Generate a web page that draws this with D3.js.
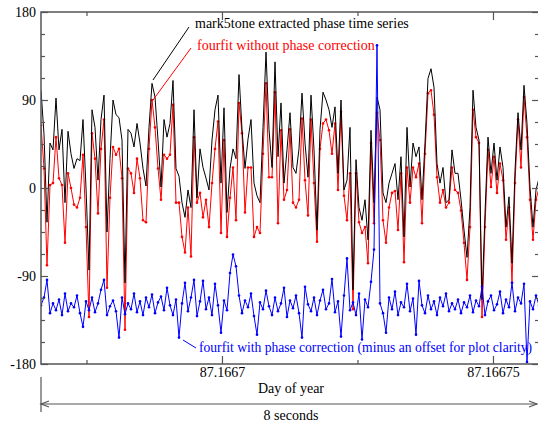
<!DOCTYPE html>
<html><head><meta charset="utf-8">
<script src="https://cdn.jsdelivr.net/npm/d3@7"></script>
<style>
body{margin:0;background:#fff}
svg{display:block}
text{font-family:"Liberation Serif","Times New Roman",Times,Tinos,"Noto Serif","DejaVu Serif",serif}
</style>
</head><body>
<svg id="c" width="538" height="425"></svg>
<script>
// mark5tone extracted phase (degrees)
const mark5tone = [
100,55,-35,46,39,92,39,60,-15,58,
35,20,30,28,70,0,-84,80,62,8,
70,95,-45,30,90,75,72,49,-97,60,
56,42,66,46,20,2,62,107,93,49,
1,70,52,66,110,20,12,-15,-30,-2,
-20,80,-10,40,21,10,-2,49,80,95,
5,82,-25,20,40,30,116,60,20,50,
70,5,-8,-15,62,139,60,21,129,32,
87,5,39,77,21,15,40,97,46,11,
95,39,-43,60,98,90,80,62,83,15,
90,-2,8,62,-104,29,-20,-33,-12,-53,
59,-15,93,80,-5,-15,5,15,25,-12,
32,-50,62,1,46,32,42,-12,46,112,
122,103,25,5,21,-15,-12,39,15,15,
-12,-43,-71,-20,100,62,49,-114,-26,52,
15,46,8,42,21,-40,-9,-77,18,77,
39,105,66,1,-40,-2,10];
// fourfit without phase correction
const fourfitNoCorr = [
64,20,-79,3,5,52,10,3,-56,15,
0,-17,-20,-10,34,-40,-132,56,30,-26,
40,70,-102,-10,42,34,40,10,-145,20,
15,-5,30,10,-33,-35,40,90,62,20,
-12,34,30,34,85,-15,-15,-50,-66,-20,
-70,52,-15,-5,-30,-12,-40,5,40,68,
-46,49,-50,-10,21,-33,87,56,-25,21,
21,-50,-40,-46,35,107,11,11,98,-36,
59,-12,-2,60,-15,-20,-12,71,8,-28,
70,5,-55,40,66,70,59,35,66,-2,
78,-8,-33,15,-124,15,-35,-46,-40,-77,
46,-36,77,49,-33,-56,-20,-5,-3,-43,
15,-76,21,-15,21,11,25,-36,35,97,
100,75,11,-15,-2,-20,-15,21,-2,-5,
-23,-56,-94,-40,80,52,46,-132,-40,39,
1,32,-5,25,8,-53,-20,-97,5,70,
21,93,52,-12,-53,-12,0];
// fourfit with phase correction (minus offset)
const fourfitCorr = [
-120,-112,-94,-128,-118,-125,-114,-130,-108,-126,
-118,-122,-110,-128,-142,-116,-125,-112,-127,-118,
-104,-94,-130,-121,-115,-126,-153,-112,-129,-118,
-124,-108,-127,-116,-130,-112,-122,-109,-128,-117,
-111,-125,-102,-120,-130,-114,-153,-118,-97,-126,
-112,-94,-131,-116,-95,-124,-112,-130,-98,-120,
-148,-115,-125,-87,-68,-80,-110,-128,-115,-122,
-108,-131,-150,-117,-124,-105,-121,-130,-112,-126,
-118,-102,-132,-115,-123,-110,-128,-153,-101,-119,
-126,-112,-130,-115,-104,-124,-118,-93,-127,-116,
-152,-110,-72,-125,-117,-130,-108,-155,-114,-122,
-96,-63,146,-118,-128,-148,-112,-124,-106,-130,
-117,-122,-98,-126,-113,-150,-95,-120,-128,-110,
-124,-116,-130,-112,-121,-108,-126,-118,-124,-114,
-128,-117,-122,-110,-127,-115,-121,-101,-130,-116,
-110,-125,-119,-106,-128,-114,-122,-97,-126,-112,
-118,-98,-178,-116,-124,-110,-120];

const tStart = 87.16666661, tStep = 5.535e-7; // sample grid (day of year)
const xDomain = [87.16666661, 87.16675849];
const xMajorTicks = [87.1667, 87.16675];
const xMajorLabels = ["87.1667", "87.16675"];
const xMinorTicks = [87.166675, 87.166725];
const yMajorTicks = [-180, -90, 0, 90, 180];
const yMajorLabels = ["-180", "-90", "0", "90", "180"];
const yMinorTicks = [-157.5,-135,-112.5,-67.5,-45,-22.5,22.5,45,67.5,112.5,135,157.5];
const seriesLabels = ["mark5tone extracted phase time series",
                      "fourfit without phase correction",
                      "fourfit with phase correction (minus an offset for plot clarity)"];
const xTitle = "Day of year", spanLabel = "8 seconds";

const FONT = '"Liberation Serif","Times New Roman",Times,Tinos,"Noto Serif","DejaVu Serif",serif';
const L = 41, R = 539, T = 12, B = 364;
const svg = d3.select("#c");
const x = d3.scaleLinear().domain(xDomain).range([L, R]);
const y = d3.scaleLinear().domain([-180, 180]).range([B, T]);
const axisCol = "#555";

svg.append("defs").append("clipPath").attr("id","clip")
  .append("rect").attr("x",L).attr("y",T).attr("width",R-L).attr("height",B-T);

function tpts(arr){ return arr.map((v,i)=>[tStart + i*tStep, v]); }
const line = d3.line().x(d=>x(d[0])).y(d=>y(d[1]));
const g = svg.append("g").attr("clip-path","url(#clip)");

// red
const redPts = tpts(fourfitNoCorr);
g.append("path").attr("d", line(redPts)).attr("fill","none").attr("stroke","#ff0000").attr("stroke-width",1);
g.selectAll(".rm").data(redPts).enter().append("circle")
  .attr("cx",d=>x(d[0])).attr("cy",d=>y(d[1])).attr("r",1.3).attr("fill","#ff0000");
// black
g.append("path").attr("d", line(tpts(mark5tone))).attr("fill","none").attr("stroke","#000").attr("stroke-width",1);
// blue
const bluePts = tpts(fourfitCorr);
g.append("path").attr("d", line(bluePts)).attr("fill","none").attr("stroke","#0000ff").attr("stroke-width",1);
g.selectAll(".bm").data(bluePts).enter().append("circle")
  .attr("cx",d=>x(d[0])).attr("cy",d=>y(d[1])).attr("r",1.3).attr("fill","#0000ff");

// frame
svg.append("rect").attr("x",L).attr("y",T).attr("width",R-L).attr("height",B-T)
  .attr("fill","none").attr("stroke",axisCol).attr("stroke-width",1.5);

function styleAxis(sel){
  sel.select(".domain").remove();
  sel.selectAll("line").attr("stroke",axisCol).attr("stroke-width",1.2);
  sel.selectAll("text").attr("font-size",14).attr("fill","#000")
     .attr("font-family",FONT).style("font-family",FONT);
}
// bottom
svg.append("g").attr("transform",`translate(0,${B})`)
  .call(d3.axisBottom(x).tickValues(xMajorTicks).tickSize(-8).tickPadding(3)
    .tickFormat((d,i)=>xMajorLabels[i])).call(styleAxis);
svg.append("g").attr("transform",`translate(0,${B})`)
  .call(d3.axisBottom(x).tickValues(xMinorTicks).tickSize(-4).tickFormat("")).call(styleAxis);
// top
svg.append("g").attr("transform",`translate(0,${T})`)
  .call(d3.axisTop(x).tickValues(xMajorTicks).tickSize(-8).tickFormat("")).call(styleAxis);
svg.append("g").attr("transform",`translate(0,${T})`)
  .call(d3.axisTop(x).tickValues(xMinorTicks).tickSize(-4).tickFormat("")).call(styleAxis);
// left
svg.append("g").attr("transform",`translate(${L},0)`)
  .call(d3.axisLeft(y).tickValues(yMajorTicks).tickSize(-7).tickPadding(5)
    .tickFormat((d,i)=>yMajorLabels[i])).call(styleAxis);
svg.append("g").attr("transform",`translate(${L},0)`)
  .call(d3.axisLeft(y).tickValues(yMinorTicks).tickSize(-4).tickFormat("")).call(styleAxis);
// right
svg.append("g").attr("transform",`translate(${R},0)`)
  .call(d3.axisRight(y).tickValues(yMajorTicks).tickSize(-7).tickFormat("")).call(styleAxis);
svg.append("g").attr("transform",`translate(${R},0)`)
  .call(d3.axisRight(y).tickValues(yMinorTicks).tickSize(-4).tickFormat("")).call(styleAxis);

function txt(xp, yp, s, col, size, anchor){
  return svg.append("text").attr("x",xp).attr("y",yp).attr("font-size",size||14)
    .attr("font-family",FONT).style("font-family",FONT)
    .attr("fill",col||"#000").attr("text-anchor",anchor||"start").text(s);
}
// x title
txt(291, 393, xTitle, "#000", 14, "middle");
// span arrow
const ay = 404;
svg.append("line").attr("x1",L).attr("x2",L).attr("y1",377).attr("y2",412)
  .attr("stroke",axisCol).attr("stroke-width",1.2);
svg.append("line").attr("x1",L).attr("x2",537).attr("y1",ay).attr("y2",ay)
  .attr("stroke",axisCol).attr("stroke-width",1.2);
svg.append("path").attr("d",`M${L+8},${ay-3}L${L},${ay}L${L+8},${ay+3}`)
  .attr("fill","none").attr("stroke",axisCol).attr("stroke-width",1.2);
svg.append("path").attr("d",`M${537-8},${ay-3}L537,${ay}L${537-8},${ay+3}`)
  .attr("fill","none").attr("stroke",axisCol).attr("stroke-width",1.2);
txt(291, 420, spanLabel, "#000", 14, "middle");

// annotations
svg.append("line").attr("x1",153).attr("y1",80).attr("x2",189).attr("y2",27).attr("stroke","#000").attr("stroke-width",1);
txt(195, 28, seriesLabels[0], "#000", 14);
svg.append("line").attr("x1",153).attr("y1",100).attr("x2",191).attr("y2",48).attr("stroke","#ff0000").attr("stroke-width",1);
txt(197, 50, seriesLabels[1], "#ff0000", 14);
svg.append("line").attr("x1",183).attr("y1",340).attr("x2",196).attr("y2",348).attr("stroke","#0000ff").attr("stroke-width",1);
txt(199, 352, seriesLabels[2], "#0000ff", 13.6);
</script>
</body></html>
